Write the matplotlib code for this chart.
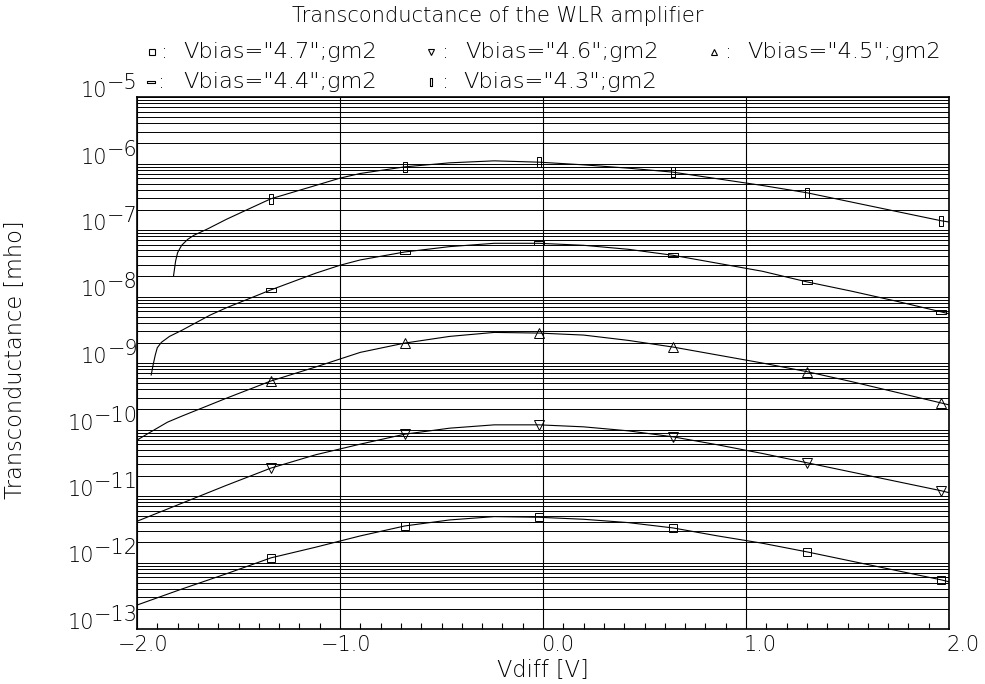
import numpy as np
import matplotlib
matplotlib.use('Agg')
import matplotlib.pyplot as plt
from matplotlib.lines import Line2D
from matplotlib.ticker import LogLocator, MultipleLocator, NullFormatter, FixedLocator
from matplotlib.transforms import ScaledTranslation, blended_transform_factory

plt.rcParams['font.family'] = ['DejaVu Sans']
plt.rcParams['font.weight'] = 'light'

# ---------------- data (log10 of transconductance in mho) ----------------
x_grid = [-2.00, -1.78, -1.56, -1.34, -1.12, -0.90, -0.68, -0.46, -0.24, -0.02,
          0.20, 0.42, 0.64, 0.86, 1.08, 1.30, 1.52, 1.74, 1.96, 2.00]

x_47 = x_grid
lg_47 = [-12.64, -12.40, -12.17, -11.93, -11.77, -11.60, -11.45, -11.36, -11.31, -11.32,
         -11.35, -11.40, -11.48, -11.60, -11.71, -11.84, -11.98, -12.12, -12.26, -12.29]

x_46 = x_grid
lg_46 = [-11.38, -11.11, -10.84, -10.58, -10.38, -10.22, -10.07, -9.98, -9.93, -9.93,
         -9.96, -10.02, -10.11, -10.23, -10.36, -10.50, -10.64, -10.78, -10.92, -10.95]

x_45 = [-2.00, -1.94, -1.85, -1.78, -1.56, -1.34, -1.12, -0.90, -0.68, -0.46, -0.24, -0.02,
        0.20, 0.42, 0.64, 0.86, 1.08, 1.30, 1.52, 1.74, 1.96, 2.00]
lg_45 = [-10.16, -10.05, -9.89, -9.80, -9.53, -9.27, -9.06, -8.84, -8.70, -8.60, -8.54, -8.55,
         -8.58, -8.66, -8.76, -8.88, -9.00, -9.13, -9.28, -9.44, -9.60, -9.63]

x_44 = [-1.93, -1.92, -1.91, -1.90, -1.88, -1.84, -1.78, -1.64, -1.56, -1.34, -1.12, -1.00,
        -0.90, -0.68, -0.46, -0.24, -0.02, 0.20, 0.42, 0.64, 0.86, 1.08, 1.30, 1.52, 1.74,
        1.96, 2.00]
lg_44 = [-9.18, -9.02, -8.88, -8.77, -8.69, -8.60, -8.51, -8.28, -8.17, -7.90, -7.65, -7.53,
         -7.45, -7.33, -7.25, -7.20, -7.20, -7.23, -7.29, -7.38, -7.50, -7.62, -7.78, -7.92, -8.07,
         -8.23, -8.26]

x_43 = [-1.82, -1.815, -1.81, -1.80, -1.78, -1.75, -1.72, -1.65, -1.56, -1.44, -1.34, -1.12,
        -1.00, -0.90, -0.68, -0.46, -0.24, -0.02, 0.20, 0.42, 0.64, 0.86, 1.08, 1.30, 1.52,
        1.74, 1.96, 2.00]
lg_43 = [-7.69, -7.58, -7.47, -7.34, -7.23, -7.14, -7.08, -6.98, -6.84, -6.67, -6.53, -6.33,
         -6.22, -6.15, -6.05, -5.99, -5.96, -5.98, -6.02, -6.07, -6.13, -6.23, -6.33, -6.44, -6.58,
         -6.72, -6.86, -6.88]

marker_x = [-1.34, -0.68, -0.02, 0.64, 1.30, 1.96]

series_labels = ['Vbias="4.7";gm2', 'Vbias="4.6";gm2', 'Vbias="4.5";gm2',
                 'Vbias="4.4";gm2', 'Vbias="4.3";gm2']

x_ticks = [-2.0, -1.0, 0.0, 1.0, 2.0]
x_ticklabels = ['\u22122.0', '\u22121.0', '0.0', '1.0', '2.0']
y_decades = list(range(-13, -4))

title_text = 'Transconductance of the WLR amplifier'
x_label = 'Vdiff [V]'
y_label = 'Transconductance [mho]'

# ---------------- figure ----------------
DPI = 100
W, H = 985, 684
fig = plt.figure(figsize=(W / DPI, H / DPI), dpi=DPI)
ax = fig.add_axes([137/W, 1-629/H, (949-137)/W, (629-97)/H])
renderer = fig.canvas.get_renderer()


def fit(t, target, along='w'):
    """scale font size so the text spans `target` pixels"""
    bb = t.get_window_extent(renderer)
    cur = bb.width if along == 'w' else bb.height
    t.set_fontsize(t.get_fontsize() * target / cur)


rect_h = [(-1, -0.32), (1, -0.32), (1, 0.32), (-1, 0.32), (-1, -0.32)]
rect_v = [(-0.32, -1), (0.32, -1), (0.32, 1), (-0.32, 1), (-0.32, -1)]
markers = ['s', 'v', '^', rect_h, rect_v]
msizes = [5.5, 7, 7, 7.5, 7.5]

all_x = [x_47, x_46, x_45, x_44, x_43]
all_lg = [lg_47, lg_46, lg_45, lg_44, lg_43]

for xs, lgs, mk, ms in zip(all_x, all_lg, markers, msizes):
    ys = [10.0 ** v for v in lgs]
    idx = [i for i, v in enumerate(xs) if round(v, 2) in marker_x]
    ax.plot(xs, ys, color='black', lw=0.8, marker=mk, ms=ms, mfc='none',
            mec='black', mew=0.7, markevery=idx, zorder=3)

ax.set_yscale('log')
ax.set_xlim(-2, 2)
ax.set_ylim(1e-13, 1e-5)

ax.yaxis.set_major_locator(LogLocator(base=10, numticks=100))
ax.yaxis.set_minor_locator(LogLocator(base=10, subs=np.arange(2, 10), numticks=100))
ax.yaxis.set_minor_formatter(NullFormatter())
ax.tick_params(axis='y', which='both', length=0, labelleft=False)

ax.xaxis.set_major_locator(FixedLocator(x_ticks))
ax.set_xticklabels(x_ticklabels)
ax.xaxis.set_minor_locator(MultipleLocator(0.1))
ax.tick_params(axis='x', which='minor', direction='in', length=4, width=0.8, top=False)
ax.tick_params(axis='x', which='major', direction='in', length=0, pad=4, labelsize=15)
off = ScaledTranslation(31/DPI, 0, fig.dpi_scale_trans)
for lab in ax.get_xticklabels():
    lab.set_ha('right')
    lab.set_transform(lab.get_transform() + off)

ax.grid(True, which='both', axis='y', color='black', lw=0.7)
ax.grid(True, which='major', axis='x', color='black', lw=0.8)
ax.set_axisbelow(True)
for sp in ax.spines.values():
    sp.set_linewidth(1.2)
    sp.set_color('black')

# y tick labels: "10" with full-size superscript
trans = blended_transform_factory(ax.transAxes, ax.transData)
sups = []
for d in y_decades:
    t = ax.text(0, 10.0 ** d, '\u2212%d' % (-d), fontsize=15, ha='right', va='baseline',
                transform=trans + ScaledTranslation(1/DPI, 8/DPI, fig.dpi_scale_trans))
    sups.append((d, t))
fig.canvas.draw()
for d, t in sups:
    w = t.get_window_extent(renderer).width
    ax.text(0, 10.0 ** d, '10', fontsize=15, ha='right', va='baseline',
            transform=trans + ScaledTranslation((1 - w) / DPI, 0, fig.dpi_scale_trans))

# title, axis labels
tt = fig.text(498/W, 1-22/H, title_text, fontsize=14.5, ha='center', va='baseline')
fit(tt, 412)
yl = fig.text(15/W, 1-360/H, y_label, fontsize=14, ha='center', va='center', rotation=90)
fit(yl, 280, along='h')
fig.text(543/W, 1-676/H, x_label, fontsize=yl.get_fontsize(), ha='center', va='baseline')

# legend: (marker x, colon x, text x, baseline y)
leg_pos = [(152, 161, 183, 58), (431, 442, 465, 58), (714, 725, 747, 58),
           (151, 158, 183, 88), (431, 442, 463, 88)]
leg_ms = [4, 5, 5, 5.5, 5.5]
for (mx, cx, tx, by), mk, ms, lab in zip(leg_pos, markers, leg_ms, series_labels):
    fig.add_artist(Line2D([mx/W], [1-(by-6)/H], marker=mk, ms=ms, mfc='none',
                          mec='black', mew=0.8, ls='none', transform=fig.transFigure))
    fig.text(cx/W, 1-by/H, ':', fontsize=15, ha='left', va='baseline')
    lt = fig.text(tx/W, 1-by/H, lab, fontsize=16, ha='left', va='baseline')
    fit(lt, 194)

fig.savefig('out.png', dpi=DPI)
